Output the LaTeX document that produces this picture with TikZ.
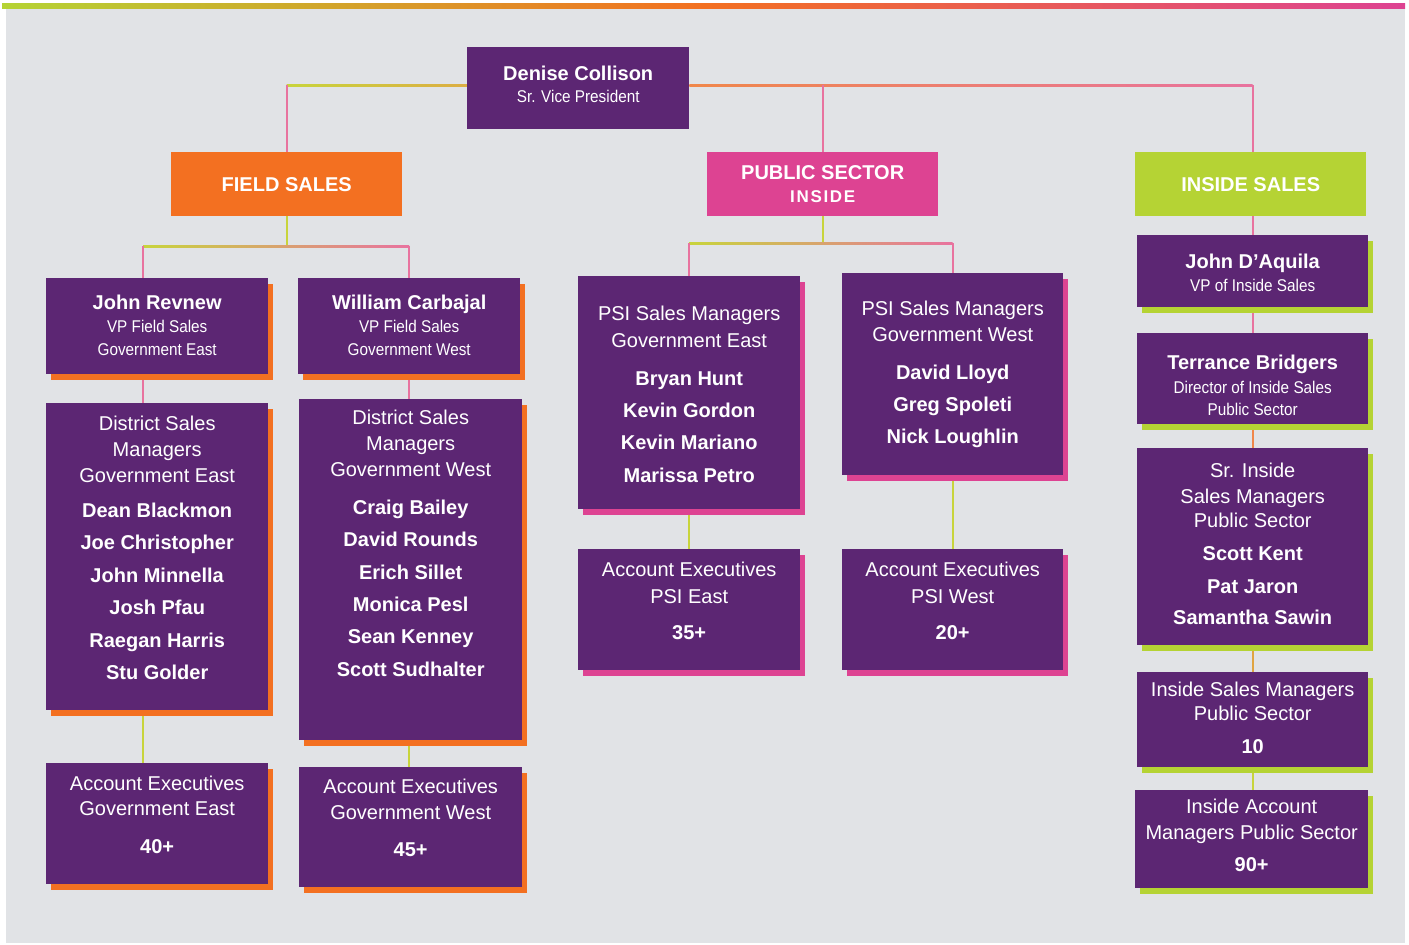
\documentclass[tikz,border=0pt]{standalone}
\usepackage{fontspec}
\setmainfont{Liberation Sans}
\newfontfamily\narrowfont[FakeStretch=0.9]{Liberation Sans}
\usetikzlibrary{shadows,backgrounds}

\definecolor{bgray}{HTML}{E1E3E6}
\definecolor{ppl}{HTML}{5C2673}
\definecolor{fsor}{HTML}{F37021}
\definecolor{pspk}{HTML}{DD4392}
\definecolor{isgr}{HTML}{B5D334}
\definecolor{lnpk}{HTML}{E8739F}
\definecolor{lngr}{HTML}{C8D43C}
\definecolor{lnor}{HTML}{F0874A}
\definecolor{lnyl}{HTML}{E0A441}
\newcommand{\subln}[1]{{\narrowfont\fontsize{17}{20}\selectfont #1}}

\tikzset{
	pbox/.style={fill=ppl, minimum width=222pt, anchor=north west, inner sep=0pt},
	headbox/.style={minimum width=231pt, minimum height=64pt, anchor=north west, inner sep=0pt,
		text=white, align=center, font=\bfseries\fontsize{20}{23}\selectfont},
	orsh/.style={drop shadow={shadow xshift=5pt, shadow yshift=-6pt, fill=fsor, opacity=1}},
	pksh/.style={drop shadow={shadow xshift=5pt, shadow yshift=-6pt, fill=pspk, opacity=1}},
	grsh/.style={drop shadow={shadow xshift=5pt, shadow yshift=-6pt, fill=isgr, opacity=1}},
	boxtxt/.style={anchor=north, text=white, align=center, inner sep=0pt, font=\fontsize{20}{26}\selectfont},
	link/.style={line width=1.8pt},
}

\begin{document}
\begin{tikzpicture}[x=1pt, y=-1pt]
	%%%%% START %%%%%
	\useasboundingbox (0,0) rectangle (1409,945);

	% top
	\node[pbox, minimum height=82pt] (den) at (467,47) {};
	\node[boxtxt] (dent) at ([yshift=-18.5pt]den.north)
		{\textbf{Denise Collison}\\[-4pt]\subln{Sr. Vice President}};

	\node[headbox, fill=fsor] (fs) at (171,152) {FIELD SALES};
	\node[headbox, fill=pspk] (ps) at (707,152)
		{PUBLIC SECTOR\\{\fontsize{17}{20}\selectfont\addfontfeature{LetterSpace=10}INSIDE}};
	\node[headbox, fill=isgr] (is) at (1135,152) {INSIDE SALES};

	% field sales
	\node[pbox, orsh, minimum height=96pt] (jr) at (46,278) {};
	\node[boxtxt] (jrt) at ([yshift=-16.5pt]jr.north)
		{\textbf{John Revnew}\\[-3pt]\subln{VP Field Sales}\\[-3pt]\subln{Government East}};
	\node[pbox, orsh, minimum height=96pt] (wc) at (298,278) {};
	\node[boxtxt] (wct) at ([yshift=-16.5pt]wc.north)
		{\textbf{William Carbajal}\\[-3pt]\subln{VP Field Sales}\\[-3pt]\subln{Government West}};

	\node[pbox, orsh, minimum height=307pt] (de) at (46,403) {};
	\node[boxtxt] (det) at ([yshift=-12.5pt]de.north)
		{District Sales\\Managers\\Government East\\[9pt]
		\textbf{Dean Blackmon}\\[6.5pt]\textbf{Joe Christopher}\\[6.5pt]\textbf{John Minnella}\\[6.5pt]
		\textbf{Josh Pfau}\\[6.5pt]\textbf{Raegan Harris}\\[6.5pt]\textbf{Stu Golder}};
	\node[pbox, orsh, minimum width=223pt, minimum height=341pt] (dw) at (299,399) {};
	\node[boxtxt] (dwt) at ([yshift=-10.5pt]dw.north)
		{District Sales\\Managers\\Government West\\[12pt]
		\textbf{Craig Bailey}\\[6.4pt]\textbf{David Rounds}\\[6.4pt]\textbf{Erich Sillet}\\[6.4pt]
		\textbf{Monica Pesl}\\[6.4pt]\textbf{Sean Kenney}\\[6.4pt]\textbf{Scott Sudhalter}};

	\node[pbox, orsh, minimum height=121pt] (aege) at (46,763) {};
	\node[boxtxt] (aeget) at ([yshift=-12.5pt]aege.north)
		{Account Executives\\[-1pt]Government East\\[12pt]\textbf{40+}};
	\node[pbox, orsh, minimum width=223pt, minimum height=120pt] (aegw) at (299,767) {};
	\node[boxtxt] (aegwt) at ([yshift=-11.5pt]aegw.north)
		{Account Executives\\Government West\\[11pt]\textbf{45+}};

	% public sector
	\node[pbox, pksh, minimum height=233pt] (pse) at (578,276) {};
	\node[boxtxt] (pset) at ([yshift=-29.5pt]pse.north)
		{PSI Sales Managers\\[1pt]Government East\\[12pt]
		\textbf{Bryan Hunt}\\[6.3pt]\textbf{Kevin Gordon}\\[6.3pt]\textbf{Kevin Mariano}\\[6.3pt]\textbf{Marissa Petro}};
	\node[pbox, pksh, minimum width=221pt, minimum height=202pt] (psw) at (842,273) {};
	\node[boxtxt] (pswt) at ([yshift=-27.5pt]psw.north)
		{PSI Sales Managers\\Government West\\[12pt]
		\textbf{David Lloyd}\\[6pt]\textbf{Greg Spoleti}\\[6pt]\textbf{Nick Loughlin}};

	\node[pbox, pksh, minimum height=121pt] (aepe) at (578,549) {};
	\node[boxtxt] (aepet) at ([yshift=-12.5pt]aepe.north)
		{Account Executives\\[1pt]PSI East\\[10pt]\textbf{35+}};
	\node[pbox, pksh, minimum width=221pt, minimum height=121pt] (aepw) at (842,549) {};
	\node[boxtxt] (aepwt) at ([yshift=-12.5pt]aepw.north)
		{Account Executives\\[1pt]PSI West\\[10pt]\textbf{20+}};

	% inside sales
	\node[pbox, grsh, minimum width=231pt, minimum height=72pt] (jd) at (1137,235) {};
	\node[boxtxt] (jdt) at ([yshift=-18.5pt]jd.north)
		{\textbf{John D'Aquila}\\[-3pt]\subln{VP of Inside Sales}};
	\node[pbox, grsh, minimum width=231pt, minimum height=91pt] (tb) at (1137,333) {};
	\node[boxtxt] (tbt) at ([yshift=-21.5pt]tb.north)
		{\textbf{Terrance Bridgers}\\[-2pt]\subln{Director of Inside Sales}\\[-4pt]\subln{Public Sector}};
	\node[pbox, grsh, minimum width=231pt, minimum height=197pt] (sr) at (1137,448) {};
	\node[boxtxt] (srt) at ([yshift=-14.5pt]sr.north)
		{Sr. Inside\\Sales Managers\\[-2pt]Public Sector\\[7pt]
		\textbf{Scott Kent}\\[7pt]\textbf{Pat Jaron}\\[5pt]\textbf{Samantha Sawin}};
	\node[pbox, grsh, minimum width=231pt, minimum height=95pt] (ism) at (1137,672) {};
	\node[boxtxt] (ismt) at ([yshift=-9.5pt]ism.north)
		{Inside Sales Managers\\[-2pt]Public Sector\\[7pt]\textbf{10}};
	\node[pbox, grsh, minimum width=233pt, minimum height=98pt] (iam) at (1135,790) {};
	\node[boxtxt] (iamt) at ([yshift=-8.5pt]iam.north)
		{Inside Account\\Managers Public Sector\\[6pt]\textbf{90+}};

	% lines, behind the boxes
	\begin{scope}[on background layer]
		\fill[bgray] (6,8) rectangle (1405,943);
		\shade[left color=isgr, right color=fsor] (2,3) rectangle (704,8);
		\shade[left color=fsor, right color=pspk] (704,3) rectangle (1405,8);

		\coordinate (topbus) at ([yshift=3pt]den.west);
		\coordinate (busL) at (topbus -| fs.north);
		\coordinate (busDL) at (topbus -| den.west);
		\coordinate (busDR) at (topbus -| den.east);
		\coordinate (busM) at (topbus -| ps.north);
		\coordinate (busR) at (topbus -| jd.north);
		\shade[left color=lngr, right color=lngr!50!lnor] ([yshift=1pt]busL) rectangle ([yshift=-1pt]busDL);
		\shade[left color=lnor, right color=lnpk] ([yshift=1pt]busDR) rectangle ([yshift=-1pt]busR);
		\draw[link, lnpk] (busL) -- (fs.north);
		\draw[link, lnpk] (busM) -- (ps.north);
		\draw[link, lnpk] (busR) -- (busR |- is.north);

		% field sales
		\coordinate (fbus) at ([yshift=-30pt]fs.south);
		\coordinate (fbusL) at (fbus -| 143,0);
		\coordinate (fbusR) at (fbus -| wc.north);
		\draw[link, lngr] (fs.south) -- (fbus);
		\shade[left color=lngr, middle color=lnor, right color=lnpk] ([yshift=1pt]fbusL) rectangle ([yshift=-1pt]fbusR);
		\draw[link, lnpk] (fbusL) -- (fbusL |- jr.north);
		\draw[link, lnpk] (fbusR) -- (wc.north);
		\draw[link, lnpk] (fbusL |- jr.south) -- (fbusL |- de.north);
		\draw[link, lnpk] (wc.south) -- (wc.south |- dw.north);
		\draw[link, lngr] (fbusL |- de.south) -- (fbusL |- aege.north);
		\draw[link, lngr] (wc.south |- dw.south) -- (wc.south |- aegw.north);

		% public sector
		\coordinate (pbus) at ([yshift=-27pt]ps.south);
		\coordinate (pbusL) at (pbus -| pse.north);
		\coordinate (pbusR) at (pbus -| psw.north);
		\draw[link, lngr] (ps.south) -- (pbus);
		\shade[left color=lngr, middle color=lnor, right color=lnpk] ([yshift=1pt]pbusL) rectangle ([yshift=-1pt]pbusR);
		\draw[link, lnpk] (pbusL) -- (pse.north);
		\draw[link, lnpk] (pbusR) -- (psw.north);
		\draw[link, lngr] (pse.south) -- (aepe.north);
		\draw[link, lngr] (psw.south) -- (aepw.north);

		% inside sales
		\draw[link, lnpk] (jd.north |- is.south) -- (jd.north);
		\draw[link, lnpk] (jd.south) -- (tb.north);
		\draw[link, lnor] (tb.south) -- (sr.north);
		\draw[link, lnyl] (sr.south) -- (ism.north);
		\draw[link, lngr] (ism.south) -- (ism.south |- iam.north);
	\end{scope}
	%%%%% END %%%%%
\end{tikzpicture}
\end{document}
